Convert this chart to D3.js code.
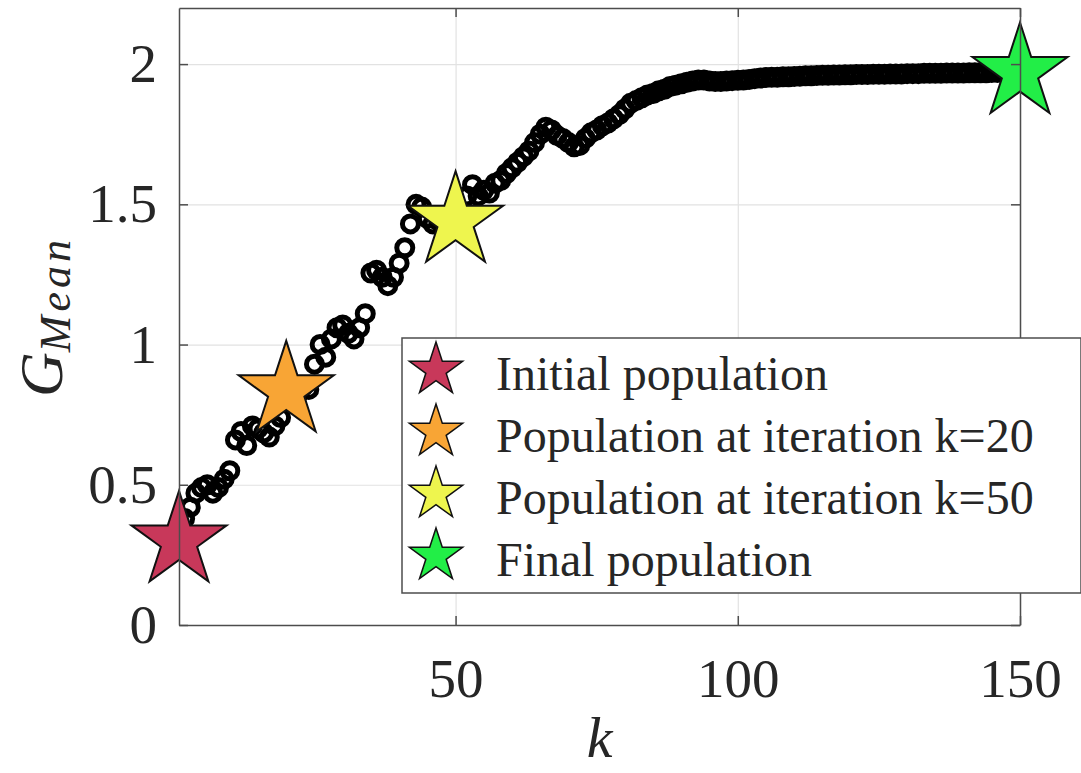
<!DOCTYPE html>
<html>
<head>
<meta charset="utf-8">
<script src="https://cdn.jsdelivr.net/npm/d3@7"></script>
<style>
  html, body { margin: 0; padding: 0; background: #fff; }
  svg { display: block; }
  text { font-family: "Liberation Serif", "Times New Roman", serif; fill: #262626; }
</style>
</head>
<body>
<svg id="chart" width="1081" height="773"></svg>
<script>
// Tick values
const xTicks = [50, 100, 150];
const yTicks = [0, 0.5, 1, 1.5, 2];

// G_Mean per iteration k = 1..150
const gMean = [
  0.30, 0.38, 0.42, 0.47, 0.49, 0.50, 0.47, 0.49, 0.52, 0.55,
  0.66, 0.69, 0.64, 0.71, 0.70, 0.685, 0.67, 0.71, 0.74, 0.83,
  0.80, 0.82, 0.85, 0.84, 0.93, 1.00, 0.955, 1.02, 1.06, 1.07,
  1.04, 1.02, 1.06, 1.11, 1.255, 1.265, 1.24, 1.21, 1.24, 1.29,
  1.345, 1.43, 1.50, 1.49, 1.45, 1.43, 1.44, 1.45, 1.46, 1.44,
  1.47, 1.53, 1.57, 1.53, 1.55, 1.54, 1.575, 1.585, 1.61, 1.63,
  1.65, 1.67, 1.69, 1.72, 1.75, 1.775, 1.765, 1.745, 1.735, 1.72,
  1.705, 1.71, 1.735, 1.755, 1.765, 1.78, 1.79, 1.805, 1.82, 1.84,
  1.86, 1.87, 1.88, 1.89, 1.895, 1.905, 1.91, 1.92, 1.925, 1.93,
  1.935, 1.94, 1.943, 1.943, 1.94, 1.938, 1.938, 1.94, 1.941, 1.942,
  1.943, 1.945, 1.948, 1.95, 1.952, 1.953, 1.953, 1.955, 1.955, 1.956,
  1.957, 1.958, 1.958, 1.959, 1.96, 1.96, 1.961, 1.961, 1.962, 1.962,
  1.963, 1.963, 1.963, 1.964, 1.964, 1.964, 1.965, 1.965, 1.965, 1.966,
  1.966, 1.966, 1.967, 1.967, 1.967, 1.967, 1.968, 1.968, 1.968, 1.968,
  1.969, 1.969, 1.969, 1.969, 1.97, 1.97, 1.97, 1.97, 1.97, 1.97
];
const iterations = d3.range(1, gMean.length + 1);

// Highlighted populations (stars)
const starK = [1, 20, 50, 150];
const starG = [0.30, 0.835, 1.44, 1.97];
const starColors = ["#c8385a", "#f8a535", "#eef54e", "#22ee47"];
const starLabels = [
  "Initial population",
  "Population at iteration k=20",
  "Population at iteration k=50",
  "Final population"
];

const svg = d3.select("#chart");
const plot = { left: 179, right: 1020, top: 8, bottom: 625 };

const x = d3.scaleLinear().domain([1, 150]).range([plot.left, plot.right]);
const y = d3.scaleLinear().domain([0, 2.2]).range([plot.bottom, plot.top]);

const AXIS_COLOR = "#4d4d4d";
const GRID_COLOR = "#e2e2e2";
const TICK_FONT = 55;

// grid
svg.append("g")
  .attr("transform", `translate(0,${plot.bottom})`)
  .call(d3.axisBottom(x).tickValues(xTicks).tickSize(-(plot.bottom - plot.top)).tickFormat(""))
  .call((g) => g.select(".domain").remove())
  .call((g) => g.selectAll("line").attr("stroke", GRID_COLOR).attr("stroke-width", 1.2));
svg.append("g")
  .attr("transform", `translate(${plot.left},0)`)
  .call(d3.axisLeft(y).tickValues(yTicks).tickSize(-(plot.right - plot.left)).tickFormat(""))
  .call((g) => g.select(".domain").remove())
  .call((g) => g.selectAll("line").attr("stroke", GRID_COLOR).attr("stroke-width", 1.2));

// scatter of G_Mean
svg.append("g")
  .selectAll("circle")
  .data(iterations)
  .join("circle")
  .attr("cx", (k) => x(k))
  .attr("cy", (k, i) => y(gMean[i]))
  .attr("r", 8)
  .attr("fill", "none")
  .attr("stroke", "#000")
  .attr("stroke-width", 5);

// stars
const ka = 0.8908130915292852;
const bigStar = d3.symbol().type(d3.symbolStar).size((50 * 50) / ka);
svg.append("g")
  .selectAll("path")
  .data(starK)
  .join("path")
  .attr("d", bigStar)
  .attr("transform", (k, i) => `translate(${x(k)},${y(starG[i])})`)
  .attr("fill", (k, i) => starColors[i])
  .attr("stroke", "#111")
  .attr("stroke-width", 2);

// axes (ticks inside, box)
function styleAxis(g) {
  g.select(".domain").attr("stroke", AXIS_COLOR).attr("stroke-width", 1.5);
  g.selectAll(".tick line").attr("stroke", AXIS_COLOR).attr("stroke-width", 1.5);
  g.selectAll(".tick text")
    .attr("fill", "#262626")
    .style("font-family", '"Liberation Serif", "Times New Roman", serif')
    .style("font-size", TICK_FONT + "px");
}
const fmt = (d) => String(d);
svg.append("g")
  .attr("transform", `translate(0,${plot.bottom})`)
  .call(d3.axisBottom(x).tickValues(xTicks).tickSizeInner(-9).tickSizeOuter(0).tickPadding(33).tickFormat(fmt))
  .call(styleAxis);
svg.append("g")
  .attr("transform", `translate(0,${plot.top})`)
  .call(d3.axisTop(x).tickValues(xTicks).tickSizeInner(-9).tickSizeOuter(0).tickFormat(""))
  .call(styleAxis);
svg.append("g")
  .attr("transform", `translate(${plot.left},0)`)
  .call(d3.axisLeft(y).tickValues(yTicks).tickSizeInner(-9).tickSizeOuter(0).tickPadding(22).tickFormat(fmt))
  .call(styleAxis);
svg.append("g")
  .attr("transform", `translate(${plot.right},0)`)
  .call(d3.axisRight(y).tickValues(yTicks).tickSizeInner(-9).tickSizeOuter(0).tickFormat(""))
  .call(styleAxis);

// axis labels
svg.append("text")
  .attr("x", (plot.left + plot.right) / 2)
  .attr("y", 757)
  .attr("text-anchor", "middle")
  .style("font-style", "italic")
  .style("font-size", "58px")
  .text("k");

const yLab = svg.append("text")
  .attr("transform", `translate(62,${(plot.top + plot.bottom) / 2}) rotate(-90)`)
  .attr("text-anchor", "middle")
  .style("font-style", "italic");
yLab.append("tspan").style("font-size", "62px").text("G");
yLab.append("tspan")
  .attr("dy", 8)
  .style("font-size", "44px")
  .style("letter-spacing", "4px")
  .text("Mean");

// legend
const legend = svg.append("g");
legend.append("rect")
  .attr("x", 402)
  .attr("y", 338)
  .attr("width", 679)
  .attr("height", 255)
  .attr("fill", "#fff")
  .attr("stroke", AXIS_COLOR)
  .attr("stroke-width", 1.5);
const smallStar = d3.symbol().type(d3.symbolStar).size((28 * 28) / ka);
const rows = legend.selectAll("g.row")
  .data(starLabels)
  .join("g")
  .attr("class", "row")
  .attr("transform", (d, i) => `translate(0,${390 + i * 62})`);
rows.append("path")
  .attr("d", smallStar)
  .attr("transform", "translate(436,-20)")
  .attr("fill", (d, i) => starColors[i])
  .attr("stroke", "#111")
  .attr("stroke-width", 1.5);
rows.append("text")
  .attr("x", 496)
  .attr("y", 0)
  .style("font-size", "48px")
  .text((d) => d);
</script>
</body>
</html>
